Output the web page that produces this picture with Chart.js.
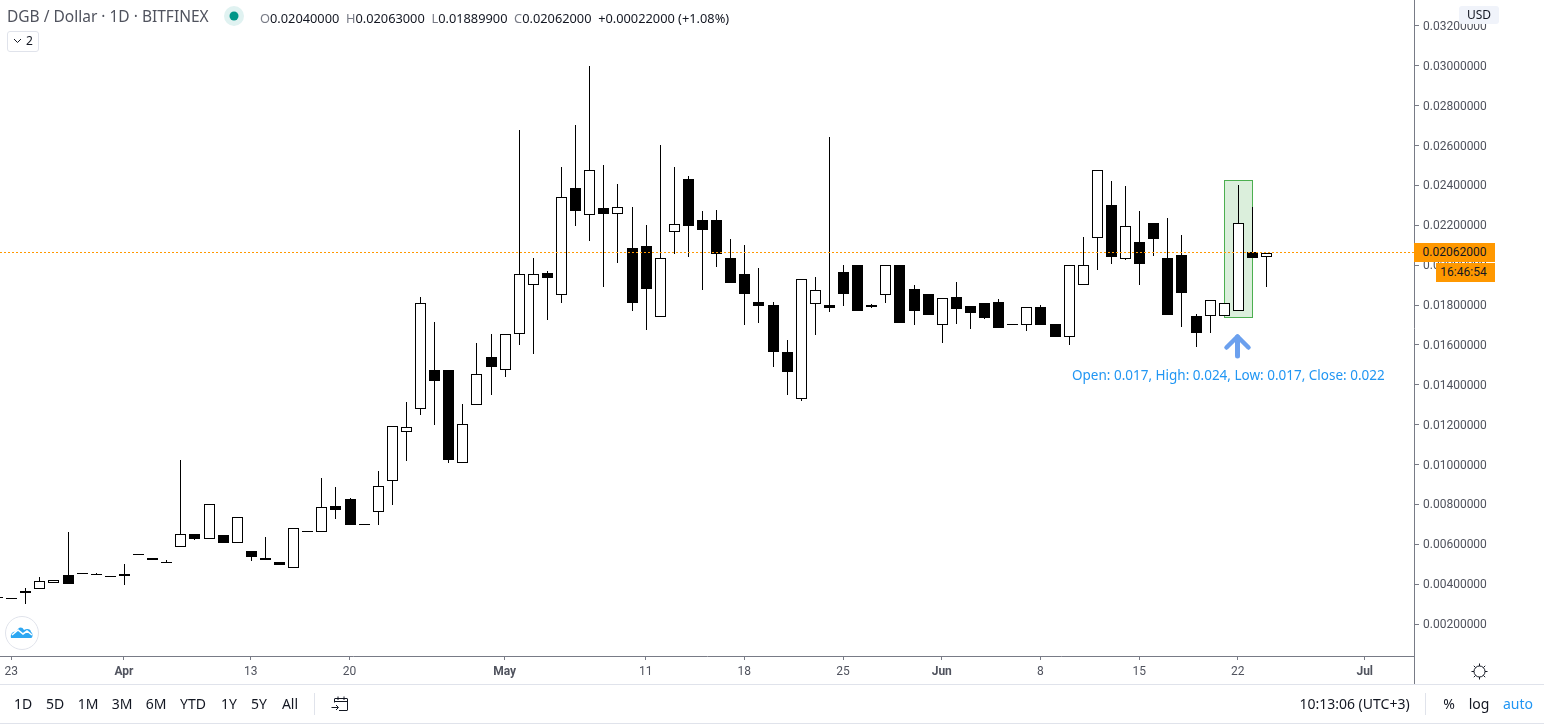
<!DOCTYPE html>
<html>
<head>
<meta charset="utf-8">
<title>DGB / Dollar</title>
<script src="https://cdn.jsdelivr.net/npm/chart.js@4"></script>
<style>
    html, body { margin: 0; padding: 0; background: #fff; overflow: hidden; }
    #page { position: relative; width: 1544px; height: 724px; font-family: "Noto Sans", sans-serif; color: #131722; }
    #chart { position: absolute; left: 0; top: 0; }
    .txt { position: absolute; white-space: nowrap; line-height: 1; }
    .mid { transform: translateX(-50%); }
    .rule { position: absolute; }
    svg { position: absolute; overflow: visible; }
    #title { left: 7px; top: 9px; font-size: 15.5px; color: #50535e; }
    #legend { left: 260px; top: 12px; font-size: 12.8px; color: #131722; }
    #legend b { font-weight: normal; color: #787b86; }
    #collapse { position: absolute; left: 7px; top: 31px; width: 30px; height: 19px; border: 1px solid #e0e3eb; border-radius: 3px; }
    .bar { top: 697px; font-size: 14px; }
    .price { position: absolute; background: #ff9800; color: #131722; font-size: 12px; text-align: center; font-family: Roboto, sans-serif; }
    #note { left: 1072px; top: 369px; font-size: 13.5px; color: #2196f3; }
</style>
</head>
<body>
<div id="page">
    <canvas id="chart" width="1544" height="724"></canvas>

    <div class="txt" id="title">DGB / Dollar · 1D · BITFINEX</div>
    <svg style="left:223px;top:5px" width="22" height="22"><circle cx="11" cy="11" r="10" fill="#e0f2f1"/><circle cx="11" cy="11" r="4.5" fill="#009688"/></svg>
    <div class="txt" id="legend"><b>O</b>0.02040000&nbsp; <b>H</b>0.02063000&nbsp; <b>L</b>0.01889900&nbsp; <b>C</b>0.02062000&nbsp; +0.00022000 (+1.08%)</div>
    <div id="collapse"></div>
    <svg style="left:13px;top:38px" width="10" height="6"><polyline points="1,1 4.5,4.5 8,1" fill="none" stroke="#131722"/></svg>
    <div class="txt" style="left:26px;top:35px;font-size:12px">2</div>

    <!-- логотип -->
    <svg style="left:5px;top:616px" width="34" height="34">
        <circle cx="17" cy="17" r="16.5" fill="#fff" stroke="#e0e3eb"/>
        <path d="M6 22 C5 18 8 15 11 16 C13 11 17 10 19 14 C22 12 26 13 26 16 C28 17 28 22 26 22 Z" fill="#2da7f2"/>
        <polyline points="7,19 13,14 18,18 22,15 27,19" fill="none" stroke="#fff" stroke-width="1.6"/>
    </svg>

    <!-- стрелка и подпись на графике -->
    <svg style="left:1220px;top:330px" width="36" height="32">
        <polyline points="6.5,17.5 17.5,6.5 28.5,17.5" fill="none" stroke="#6ba0ee" stroke-width="4.5" stroke-linecap="round" stroke-linejoin="round"/>
        <line x1="17.5" y1="7" x2="17.5" y2="26" stroke="#6ba0ee" stroke-width="5" stroke-linecap="round"/>
    </svg>
    <div class="txt" id="note">Open: 0.017, High: 0.024, Low: 0.017, Close: 0.022</div>

    <!-- плашки цены -->
    <div class="txt" style="left:1459px;top:6px;width:40px;height:18px;line-height:18px;background:#f0f3fa;border-radius:3px;text-align:center;font-size:12px">USD</div>
    <div class="price" style="left:1414px;top:243px;width:81px;height:19px;line-height:19px">0.02062000</div>
    <div class="price" style="left:1436px;top:263px;width:55px;padding-right:4px;height:19px;line-height:19px">16:46:54</div>

    <!-- линии рамки -->
    <div class="rule" style="left:1414px;top:656px;width:1px;height:28px;background:#787b86"></div>
    <div class="rule" style="left:0;top:684px;width:1544px;height:1px;background:#e0e3eb"></div>
    <div class="rule" style="left:0;top:723px;width:1544px;height:1px;background:#e0e3eb"></div>
    <div class="rule" style="left:314px;top:693px;width:1px;height:22px;background:#e0e3eb"></div>
    <div class="rule" style="left:1425px;top:693px;width:1px;height:22px;background:#e0e3eb"></div>

    <!-- нижняя панель -->
    <div class="txt mid bar" style="left:23px">1D</div>
    <div class="txt mid bar" style="left:55px">5D</div>
    <div class="txt mid bar" style="left:88px">1M</div>
    <div class="txt mid bar" style="left:122px">3M</div>
    <div class="txt mid bar" style="left:156px">6M</div>
    <div class="txt mid bar" style="left:193px">YTD</div>
    <div class="txt mid bar" style="left:229px">1Y</div>
    <div class="txt mid bar" style="left:259px">5Y</div>
    <div class="txt mid bar" style="left:290px">All</div>
    <svg style="left:331px;top:696px" width="18" height="16" fill="none" stroke="#131722">
        <path d="M3.5 6.5 V3 Q3.5 2.5 4 2.5 H16 Q16.5 2.5 16.5 3 V14 Q16.5 14.5 16 14.5 H8"/>
        <path d="M3.5 5.5 H16.5 M7 0.5 V4 M13 0.5 V4 M0.5 11.5 H7 M5 9 L7.5 11.5 L5 14"/>
    </svg>
    <div class="txt mid bar" style="left:1354.5px">10:13:06 (UTC+3)</div>
    <div class="txt mid bar" style="left:1449px">%</div>
    <div class="txt mid bar" style="left:1479px">log</div>
    <div class="txt mid bar" style="left:1518px;color:#2196f3">auto</div>
    <svg style="left:1471px;top:663px" width="18" height="18" fill="none" stroke="#131722">
        <circle cx="8.5" cy="8.5" r="5.5"/>
        <path d="M8.5 0.5 V3 M8.5 14 V16.5 M0.5 8.5 H3 M14 8.5 H16.5 M2.8 2.8 L4.6 4.6 M12.4 12.4 L14.2 14.2 M2.8 14.2 L4.6 12.4 M12.4 4.6 L14.2 2.8"/>
    </svg>
</div>

<script>
// Свечи DGB / USD
const openValues = [
    0.00334, 0.00332, 0.00364, 0.00378, 0.00408, 0.00445, 0.00457, 0.00452, 0.00442, 0.00450,
    0.00553, 0.00530, 0.00512, 0.00588, 0.00652, 0.00625, 0.00647, 0.00608, 0.00567, 0.00532,
    0.00511, 0.00480, 0.00668, 0.00663, 0.00792, 0.00827, 0.00703, 0.00764, 0.00919, 0.01165,
    0.01280, 0.01475, 0.01475, 0.01010, 0.01300, 0.01540, 0.01476, 0.01654, 0.01899, 0.01961,
    0.01852, 0.02387, 0.02254, 0.02287, 0.02259, 0.02086, 0.02097, 0.01742, 0.02168, 0.02433,
    0.02227, 0.02227, 0.02036, 0.01956, 0.01816, 0.01801, 0.01565, 0.01328, 0.01804, 0.01801,
    0.01966, 0.02001, 0.01801, 0.01852, 0.02001, 0.01881, 0.01856, 0.01702, 0.01841, 0.01796,
    0.01811, 0.01816, 0.01706, 0.01702, 0.01791, 0.01705, 0.01642, 0.01902, 0.02138, 0.02302,
    0.02033, 0.02117, 0.02212, 0.02036, 0.02051, 0.01745, 0.01747, 0.01747, 0.01772, 0.02065,
    0.02040,
];
const highValues = [
    0.00334, 0.00332, 0.00380, 0.00436, 0.00420, 0.00662, 0.00457, 0.00455, 0.00442, 0.00500,
    0.00553, 0.00530, 0.00520, 0.01023, 0.00652, 0.00801, 0.00647, 0.00736, 0.00567, 0.00637,
    0.00511, 0.00680, 0.00668, 0.00933, 0.00888, 0.00832, 0.00703, 0.00968, 0.01192, 0.01314,
    0.01841, 0.01715, 0.01475, 0.01304, 0.01610, 0.01655, 0.01654, 0.02678, 0.02036, 0.01971,
    0.02493, 0.02703, 0.02999, 0.02503, 0.02408, 0.02292, 0.02202, 0.02603, 0.02493, 0.02448,
    0.02272, 0.02277, 0.02132, 0.02102, 0.01986, 0.01816, 0.01625, 0.01929, 0.01941, 0.02643,
    0.02001, 0.02001, 0.01806, 0.02000, 0.02001, 0.01901, 0.01856, 0.01834, 0.01916, 0.01796,
    0.01811, 0.01831, 0.01706, 0.01789, 0.01801, 0.01705, 0.02000, 0.02142, 0.02476, 0.02423,
    0.02397, 0.02272, 0.02212, 0.02237, 0.02152, 0.01755, 0.01824, 0.01809, 0.02402, 0.02292,
    0.02063,
];
const lowValues = [
    0.00329, 0.00327, 0.00302, 0.00378, 0.00408, 0.00403, 0.00452, 0.00447, 0.00437, 0.00398,
    0.00548, 0.00523, 0.00507, 0.00588, 0.00622, 0.00625, 0.00608, 0.00608, 0.00518, 0.00523,
    0.00498, 0.00480, 0.00663, 0.00663, 0.00727, 0.00697, 0.00698, 0.00697, 0.00797, 0.01018,
    0.01249, 0.01199, 0.01008, 0.01010, 0.01300, 0.01349, 0.01439, 0.01600, 0.01556, 0.01725,
    0.01812, 0.02198, 0.02122, 0.01892, 0.02013, 0.01772, 0.01675, 0.01742, 0.02056, 0.02043,
    0.01876, 0.01993, 0.01911, 0.01700, 0.01710, 0.01490, 0.01349, 0.01321, 0.01650, 0.01765,
    0.01796, 0.01770, 0.01786, 0.01811, 0.01710, 0.01700, 0.01750, 0.01610, 0.01705, 0.01680,
    0.01730, 0.01685, 0.01701, 0.01670, 0.01700, 0.01640, 0.01600, 0.01902, 0.01978, 0.02006,
    0.02026, 0.01901, 0.02046, 0.01750, 0.01690, 0.01590, 0.01660, 0.01747, 0.01772, 0.02036,
    0.01890,
];
const closeValues = [
    0.00329, 0.00327, 0.00357, 0.00415, 0.00420, 0.00403, 0.00452, 0.00447, 0.00437, 0.00443,
    0.00548, 0.00523, 0.00507, 0.00650, 0.00628, 0.00801, 0.00608, 0.00736, 0.00538, 0.00523,
    0.00498, 0.00680, 0.00663, 0.00786, 0.00774, 0.00697, 0.00698, 0.00891, 0.01192, 0.01187,
    0.01809, 0.01419, 0.01023, 0.01202, 0.01453, 0.01490, 0.01654, 0.01955, 0.01955, 0.01936,
    0.02341, 0.02272, 0.02476, 0.02257, 0.02291, 0.01811, 0.01881, 0.02035, 0.02205, 0.02197,
    0.02177, 0.02056, 0.01911, 0.01856, 0.01796, 0.01565, 0.01464, 0.01929, 0.01874, 0.01787,
    0.01856, 0.01770, 0.01792, 0.02000, 0.01710, 0.01770, 0.01750, 0.01834, 0.01781, 0.01760,
    0.01735, 0.01685, 0.01701, 0.01789, 0.01700, 0.01640, 0.02000, 0.02000, 0.02476, 0.02041,
    0.02195, 0.02006, 0.02132, 0.01750, 0.01861, 0.01660, 0.01824, 0.01809, 0.02210, 0.02036,
    0.02062,
];

// Подписи оси времени и номера свечей, под которыми они стоят
const timeLabels = ["23", "Apr", "13", "20", "May", "11", "18", "25", "Jun", "8", "15", "22", "Jul"];
const timeLabelIndex = [1, 9, 18, 25, 36, 46, 53, 60, 67, 74, 81, 88, 97];
const monthLabels = ["Apr", "May", "Jun", "Jul"];

// Шкала цены
const priceMin = 0.000399;
const priceMax = 0.033304;
const priceStep = 0.002;
const lastPrice = 0.02062;

// Выделенная свеча 22 июня
const markedIndex = 88;
const markedLow = 0.01735;
const markedHigh = 0.02427;

const timeMin = 0.2092;
const timeMax = 100.493;

const upColor = "#ffffff";
const downColor = "#000000";

const candleIndex = openValues.map((_, i) => i);
const bodyData = candleIndex.map((i) => ({ x: i, y: [openValues[i], closeValues[i]] }));
const wickData = candleIndex.map((i) => ({ x: i, y: [lowValues[i], highValues[i]] }));
const bodyColors = candleIndex.map((i) => (closeValues[i] >= openValues[i] ? upColor : downColor));

// Чтобы линии были чёткими, как в оригинале, сдвигаем элементы на целые пиксели
const snapPlugin = {
    id: "snapToPixels",
    beforeDatasetsDraw(chart) {
        chart.getSortedVisibleDatasetMetas().forEach((meta) => {
            meta.data.forEach((el) => {
                if (meta.type === "bar") {
                    el.x = Math.round(el.x) + 0.5;
                    el.y = Math.round(el.y);
                    el.base = Math.round(el.base);
                    if (el.y === el.base) el.base = el.y + 1;
                } else {
                    el.y = Math.floor(el.y) + 0.5;
                }
            });
        });
    },
};

new Chart(document.getElementById("chart"), {
    type: "bar",
    plugins: [snapPlugin],
    data: {
        datasets: [
            {
                type: "line",
                data: [
                    { x: timeMin, y: lastPrice },
                    { x: timeMax, y: lastPrice },
                ],
                borderColor: "#ff9800",
                borderWidth: 1,
                borderDash: [2, 2],
                pointRadius: 0,
                order: 0,
            },
            {
                data: bodyData,
                backgroundColor: bodyColors,
                borderColor: downColor,
                borderWidth: 1,
                borderSkipped: false,
                inflateAmount: 0,
                barThickness: 11,
                grouped: false,
                order: 1,
            },
            {
                data: wickData,
                backgroundColor: downColor,
                borderWidth: 0,
                inflateAmount: 0,
                barThickness: 1,
                grouped: false,
                order: 2,
            },
            {
                data: [{ x: markedIndex, y: [markedLow, markedHigh] }],
                backgroundColor: "rgba(76, 175, 80, 0.2)",
                borderColor: "#4caf50",
                borderWidth: 1,
                borderSkipped: false,
                inflateAmount: 0,
                barThickness: 29,
                grouped: false,
                order: 3,
            },
        ],
    },
    options: {
        responsive: false,
        animation: false,
        layout: { padding: { left: 0, right: 0, top: 0, bottom: 40 } },
        plugins: { legend: { display: false }, tooltip: { enabled: false } },
        scales: {
            x: {
                type: "linear",
                min: timeMin,
                max: timeMax,
                offset: false,
                border: { color: "#787b86" },
                grid: { offset: false, drawOnChartArea: false, tickLength: 4, tickColor: "#787b86" },
                afterBuildTicks(scale) {
                    scale.ticks = timeLabelIndex.map((v) => ({ value: v }));
                },
                afterFit(scale) {
                    scale.height = 28;
                    scale.paddingLeft = 0;
                    scale.paddingRight = 0;
                },
                ticks: {
                    autoSkip: false,
                    maxRotation: 0,
                    padding: 5,
                    color: "#50535e",
                    callback: (value) => timeLabels[timeLabelIndex.indexOf(value)],
                    font: (ctx) => ({
                        family: "Roboto",
                        size: 12,
                        weight: monthLabels.includes(timeLabels[ctx.index]) ? "bold" : "normal",
                    }),
                },
            },
            y: {
                position: "right",
                min: priceMin,
                max: priceMax,
                border: { color: "#787b86" },
                grid: { drawOnChartArea: false, tickLength: 5, tickColor: "#787b86" },
                afterFit(scale) {
                    scale.width = 130;
                    scale.paddingTop = 0;
                    scale.paddingBottom = 0;
                },
                ticks: {
                    stepSize: priceStep,
                    includeBounds: false,
                    padding: 4,
                    labelOffset: 1,
                    color: "#50535e",
                    font: { family: "Roboto", size: 12 },
                    callback: (value) => value.toFixed(8),
                },
            },
        },
    },
});
</script>
</body>
</html>
